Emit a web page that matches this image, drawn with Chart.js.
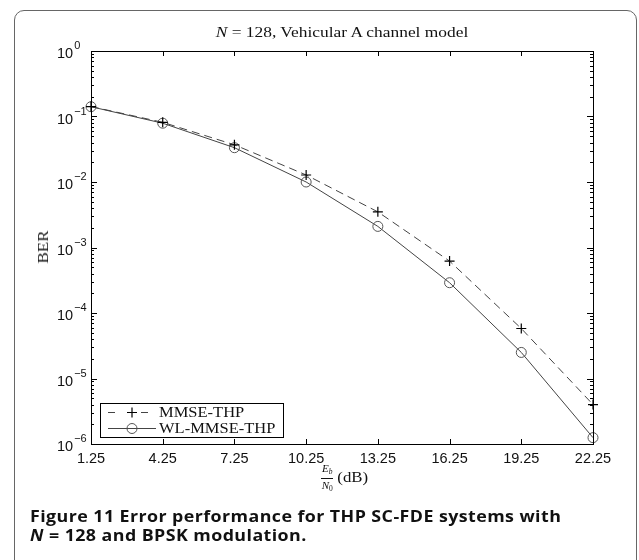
<!DOCTYPE html>
<html>
<head>
<meta charset="utf-8">
<script src="https://cdn.jsdelivr.net/npm/chart.js@4.4.0/dist/chart.umd.min.js"></script>
<style>
  body { margin: 0; background: #fff; width: 639px; height: 560px; overflow: hidden; position: relative; }
  #frame { position: absolute; left: 14px; top: 10px; width: 623px; height: 620px; border: 1.5px solid #666; border-radius: 10px; box-sizing: border-box; }
  #chart { position: absolute; left: 0; top: 0; }
  .serif { font-family: "Liberation Serif", "DejaVu Serif", serif; color: #111; font-weight: normal; }
  #title { position: absolute; left: 91px; width: 502px; top: 24px; text-align: center; font-size: 15px; white-space: nowrap; transform: scaleX(1.16); }
  #ylab { position: absolute; left: 16px; top: 238px; width: 54px; height: 18px; line-height: 18px; text-align: center; font-size: 15px; transform: rotate(-90deg) scaleX(1.13); }
  #xlab { position: absolute; left: 93px; width: 502px; top: 463px; text-align: center; font-size: 15px; white-space: nowrap; }
  .frac { display: inline-block; vertical-align: middle; text-align: center; font-size: 11px; line-height: 11px; margin-right: 6px; }
  .frac .num { display: block; border-bottom: 0.8px solid #111; padding: 0 1px 1px; }
  .frac .den { display: block; padding-top: 1px; }
  sub { font-size: 7.5px; vertical-align: -2px; }
  .db { display: inline-block; transform: scaleX(1.12); }
  #caption { position: absolute; left: 30px; top: 507px; font-family: "Open Sans", sans-serif; font-weight: 700; font-size: 16.5px; line-height: 18.5px; letter-spacing: 0.4px; color: #111; white-space: nowrap; transform: scaleX(1.08); transform-origin: left top; }
</style>
</head>
<body>
<div id="frame"></div>
<canvas id="chart" width="639" height="490"></canvas>
<div id="title" class="serif"><i>N</i> = 128, Vehicular A channel model</div>
<div id="ylab" class="serif">BER</div>
<div id="xlab" class="serif"><span class="frac"><span class="num"><i>E</i><sub><i>b</i></sub></span><span class="den"><i>N</i><sub>0</sub></span></span><span class="db">(dB)</span></div>
<div id="caption">Figure 11 Error performance for THP SC-FDE systems with<br><i>N</i> = 128 and BPSK modulation.</div>
<script>
const snrLabels = ['1.25', '4.25', '7.25', '10.25', '13.25', '16.25', '19.25', '22.25'];
const berMmse = [0.142, 0.0815, 0.037, 0.0128, 0.0035, 6.2e-4, 5.8e-5, 4.0e-6];
const berWl = [0.141, 0.079, 0.0334, 0.0100, 0.0021, 2.9e-4, 2.5e-5, 1.25e-6];
const decades = [0, -1, -2, -3, -4, -5, -6];

const axesBox = {
  id: 'axesBox',
  afterDraw(chart) {
    const { ctx, chartArea: a, scales: { x, y } } = chart;
    ctx.save();
    ctx.strokeStyle = '#000';
    ctx.lineWidth = 1;
    ctx.strokeRect(a.left + 0.5, a.top + 0.5, a.right - a.left, a.bottom - a.top);

    // inward ticks
    ctx.beginPath();
    x.ticks.forEach((t, i) => {
      const px = Math.round(x.getPixelForTick(i)) + 0.5;
      ctx.moveTo(px, a.bottom); ctx.lineTo(px, a.bottom - 5);
      ctx.moveTo(px, a.top); ctx.lineTo(px, a.top + 5);
    });
    decades.forEach(e => {
      const py = Math.round(y.getPixelForValue(Math.pow(10, e))) + 0.5;
      ctx.moveTo(a.left, py); ctx.lineTo(a.left + 6, py);
      ctx.moveTo(a.right, py); ctx.lineTo(a.right - 6, py);
      if (e > -6) {
        for (let m = 2; m <= 9; m++) {
          const q = Math.round(y.getPixelForValue(m * Math.pow(10, e - 1))) + 0.5;
          ctx.moveTo(a.left, q); ctx.lineTo(a.left + 3, q);
          ctx.moveTo(a.right, q); ctx.lineTo(a.right - 3, q);
        }
      }
    });
    ctx.stroke();

    // y tick labels 10^e
    ctx.fillStyle = '#111';
    ctx.textAlign = 'left';
    ctx.textBaseline = 'middle';
    decades.forEach(e => {
      const py = y.getPixelForValue(Math.pow(10, e));
      ctx.font = '14.5px "Liberation Sans", Arial, sans-serif';
      ctx.fillText('10', 57, py + 3);
      const w = ctx.measureText('10').width;
      ctx.font = '11px "Liberation Sans", Arial, sans-serif';
      ctx.fillText(e === 0 ? '0' : '\u2212' + (-e), 57 + w + 1, py - 5);
    });

    // legend
    const lx = 100, ly = 403, lw = 183, lh = 34;
    ctx.fillStyle = '#fff';
    ctx.fillRect(lx, ly, lw, lh);
    ctx.strokeStyle = '#000';
    ctx.strokeRect(lx + 0.5, ly + 0.5, lw, lh);
    chart.data.datasets.forEach((ds, i) => {
      const ry = ly + 9.5 + i * 16;
      ctx.save();
      ctx.strokeStyle = ds.borderColor;
      ctx.lineWidth = 1;
      if (ds.borderDash) { ctx.setLineDash([7, 26]); }
      ctx.beginPath();
      ctx.moveTo(108, ry); ctx.lineTo(156, ry);
      ctx.stroke();
      ctx.restore();
      ctx.save();
      ctx.strokeStyle = ds.pointBorderColor;
      ctx.fillStyle = 'rgba(0,0,0,0)';
      ctx.lineWidth = ds.pointBorderWidth;
      Chart.helpers.drawPoint(ctx, {
        pointStyle: ds.pointStyle, radius: ds.pointRadius, borderWidth: ds.pointBorderWidth, rotation: 0
      }, 132, ry);
      ctx.restore();
      ctx.save();
      ctx.fillStyle = '#111';
      ctx.font = '15px "Liberation Serif", serif';
      ctx.textBaseline = 'middle';
      ctx.translate(159, ry + 1);
      ctx.scale(1.1, 1);
      ctx.fillText(ds.label, 0, 0);
      ctx.restore();
    });
    ctx.restore();
  }
};

new Chart(document.getElementById('chart'), {
  type: 'line',
  data: {
    labels: snrLabels,
    datasets: [
      {
        label: 'MMSE-THP',
        data: berMmse,
        borderColor: '#444',
        borderWidth: 1,
        borderDash: [8, 5],
        pointStyle: 'cross',
        pointRadius: 5,
        pointBorderColor: '#000',
        pointBorderWidth: 1.2,
        pointBackgroundColor: 'rgba(0,0,0,0)',
        tension: 0,
        clip: false
      },
      {
        label: 'WL-MMSE-THP',
        data: berWl,
        borderColor: '#444',
        borderWidth: 1,
        pointStyle: 'circle',
        pointRadius: 5,
        pointBorderColor: '#555',
        pointBorderWidth: 1,
        pointBackgroundColor: 'rgba(0,0,0,0)',
        tension: 0,
        clip: false
      }
    ]
  },
  options: {
    responsive: false,
    animation: false,
    layout: { padding: { top: 51, right: 46, left: 0, bottom: 0 } },
    plugins: { legend: { display: false }, title: { display: false }, tooltip: { enabled: false } },
    scales: {
      x: {
        type: 'category',
        offset: false,
        grid: { display: false, drawTicks: false },
        border: { display: false },
        ticks: { autoSkip: false, maxRotation: 0, padding: 6, color: '#111', font: { family: '"Liberation Sans", Arial, sans-serif', size: 14.5 } },
        afterFit: s => { s.height = 46; }
      },
      y: {
        type: 'logarithmic',
        min: 1e-6,
        max: 1,
        grid: { display: false, drawTicks: false },
        border: { display: false },
        ticks: { display: false },
        afterFit: s => { s.width = 91; }
      }
    }
  },
  plugins: [axesBox]
});
</script>
</body>
</html>
